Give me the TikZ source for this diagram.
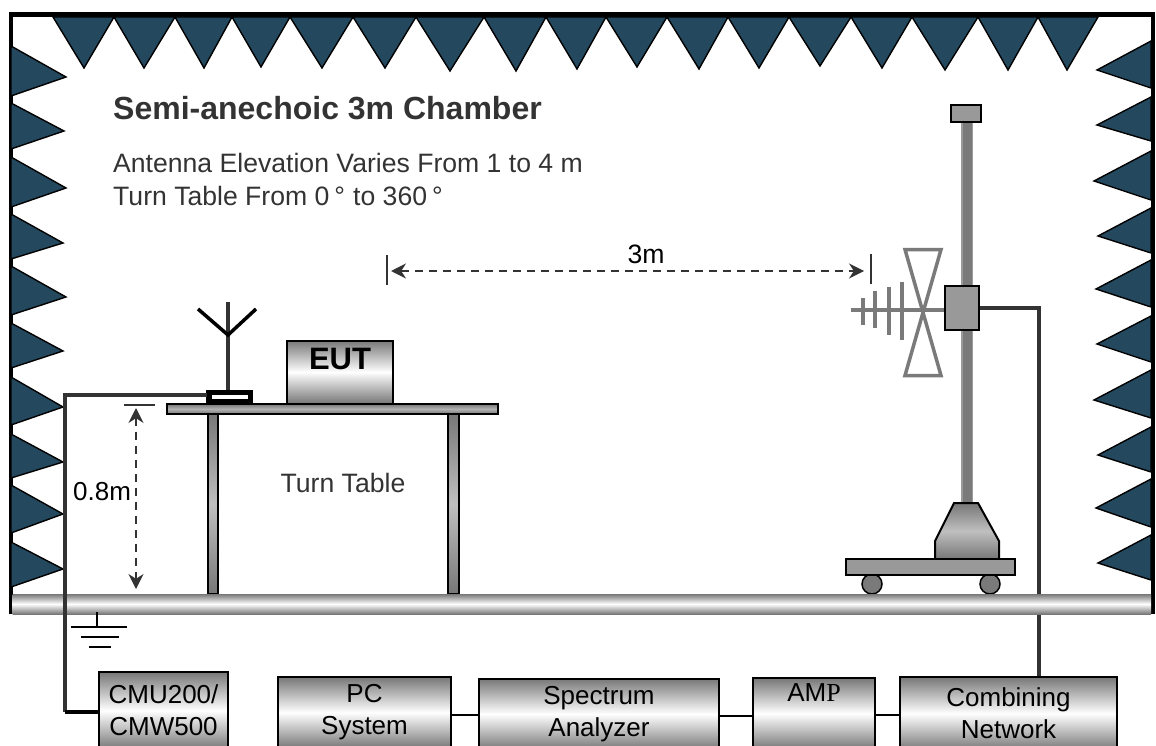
\documentclass[tikz,border=0pt]{standalone}
\usepackage{fontspec}
\setmainfont{Liberation Sans}
\newfontfamily\serifp{Liberation Serif}
\usetikzlibrary{arrows.meta}
\definecolor{wedge}{HTML}{24495F}
\definecolor{ink}{HTML}{333333}
\definecolor{mastgray}{HTML}{7A7A7A}
\definecolor{mastedge}{HTML}{9A9A9A}
\definecolor{partgray}{HTML}{999999}
\definecolor{shadegray}{HTML}{777777}
\tikzset{
  wedgest/.style={fill=wedge,draw=black,line width=1.4pt,line join=miter},
  gradst/.style={draw=black,line width=2pt,top color=shadegray,bottom color=shadegray,middle color=white},
  darkgrad/.style={draw=black,line width=2pt,top color=shadegray,bottom color=shadegray,middle color=black!25},
  instr/.style={gradst,inner sep=0pt,align=center,font=\fontsize{26}{32}\selectfont,text=black},
  partst/.style={fill=partgray,draw=black,line width=2pt},
  antst/.style={draw=mastgray,line width=4pt},
  cable/.style={draw=ink,line width=3.5pt,line join=miter},
  wire/.style={draw=black,line width=1.8pt},
  dim/.style={draw=ink,line width=1.8pt,dash pattern=on 8pt off 6pt,{Stealth[length=15pt,width=15pt]}-{Stealth[length=15pt,width=15pt]}},
  tickst/.style={draw=ink,line width=1.6pt},
  txt/.style={inner sep=0pt,text=ink,font=\fontsize{26.6}{32}\selectfont}
}
\begin{document}
\begin{tikzpicture}[x=1pt,y=-1pt]
\useasboundingbox (0,0) rectangle (1156,746);
\clip (0,0) rectangle (1156,746);
% frame
\draw[line width=4.5pt,line join=miter] (11,614)--(11,14.5)--(1153,14.5)--(1153,614);
% absorbers top
\foreach \a/\t/\b/\d in {53/84/114/68,114/144/175/68,175/204/232/68,232/261/290/67,290/322/353/68,353/385/416/68,416/450/484/71,484/516/546/71,546/577/606/69,606/637/667/67,667/699/728/69,728/759/789/68,789/820/851/66,851/882/912/68,912/945/978/70,978/1008/1038/70,1038/1067/1098/70}
  \draw[wedgest] (\a,17)--(\t,\d)--(\b,17)--cycle;
% absorbers left
\foreach \a/\b/\tx/\ty in {46/96/66/77,103/149/64/131,157/207/66/188,214/259/63/243,266/315/66/297,323/368/63/351,377/425/63/407,434/478/63/462,485/533/63/514,542/587/63/569}
  \draw[wedgest] (11,\a)--(\tx,\ty)--(11,\b)--cycle;
% absorbers right
\foreach \a/\b/\tx/\ty in {41/88/1097/70,97/141/1097/125,151/200/1094/181,208/253/1098/236,260/307/1096/289,316/362/1097/344,370/418/1094/400,427/472/1098/455,479/527/1096/508,535/580/1098/563}
  \draw[wedgest] (1151,\a)--(\tx,\ty)--(1151,\b)--cycle;
% texts
\node[txt,anchor=base west,font=\bfseries\fontsize{32}{36}\selectfont] (title) at (113,120) {Semi-anechoic 3m Chamber};
\node[txt,anchor=base west] (elev) at (113,173) {Antenna Elevation Varies From 1 to 4 m};
\node[txt,anchor=base west] (turn) at (113,205) {Turn Table From 0\kern5pt°\kern8pt to 360\kern5pt°};
\node[txt] (tt) at (343,483) {Turn Table};
% 3 m dimension
\coordinate (ta1) at (387,255); \coordinate (ta2) at (387,285);
\coordinate (tb1) at (871,254); \coordinate (tb2) at (871,284);
\draw[tickst] (ta1)--(ta2);
\draw[tickst] (tb1)--(tb2);
\coordinate (da) at (391,271); \coordinate (db) at (864,271);
\draw[dim] (da)--(db);
\node[txt,text=black] (three) at (646,254) {3m};
% table
\draw[darkgrad] (207.5,414) rectangle (218,594);
\draw[darkgrad] (447.5,414) rectangle (458.5,594);
\draw[darkgrad,middle color=black!30] (167,404) rectangle (498,414);
% EUT
\node[gradst,inner sep=0pt,minimum width=106pt,minimum height=63pt] (eut) at (340,372) {};
\node[inner sep=0pt,font=\bfseries\fontsize{31}{36}\selectfont] (eutt) at (340,359) {EUT};
% device with antenna
\draw[fill=black,draw=none] (206,389.5) rectangle (253,404);
\draw[fill=white,draw=none] (212,395) rectangle (248,399);
\coordinate (dev) at (207,395);
\coordinate (anttop) at (228,302); \coordinate (antfoot) at (228,390); \coordinate (fork) at (228,335);
\draw[draw=ink,line width=3.2pt] (anttop)--(antfoot);
\draw[draw=black,line width=3.5pt] (198,309)--(fork)--(256,309);
% right cable, hidden behind the floor
\node[instr,minimum width=217pt,minimum height=73pt] (comb) at (1008.5,713.5) {Combining\\Network};
\coordinate (cc) at (1039,308);
% mast
\draw[fill=mastedge,draw=none] (961,120) rectangle (973,505);
\draw[fill=mastgray,draw=none] (962.5,120) rectangle (971.5,505);
\draw[partst] (951,105.5) rectangle (981,122);
\draw[draw=mastgray,line width=3.5pt] (851,310)--(945,310);
\draw[antst] (863,298)--(863,325);
\draw[antst] (875,291)--(875,328);
\draw[antst] (889,287)--(889,335);
\draw[antst] (902,282)--(902,340);
\draw[draw=mastgray,line width=3.5pt,line join=miter] (905,249.5)--(941,249.5)--(905,375.5)--(941,375.5)--cycle;
\node[partst,inner sep=0pt,minimum width=34pt,minimum height=44pt] (mount) at (962,308) {};
\draw[cable] (mount.east)--(cc)--(cc|-comb.north);
% base
\draw[darkgrad] (954,503)--(978,503)--(999,541)--(999,559)--(935,559)--(935,541)--cycle;
\draw[fill=mastgray,draw=black,line width=1.5pt] (872,584) circle (10);
\draw[fill=mastgray,draw=black,line width=1.5pt] (990,584) circle (10);
\draw[partst] (846,559) rectangle (1015,575);
% floor
\shade[top color=shadegray,bottom color=shadegray,middle color=white] (12.5,594) rectangle (1151,614);
% ground
\draw[wire] (97,612)--(97,627);
\draw[wire] (71,627)--(127,627);
\draw[wire] (81,637)--(119,637);
\draw[wire] (89,647)--(111,647);
% 0.8 m dimension
\coordinate (h1) at (124,405); \coordinate (h2) at (155,405);
\draw[tickst] (h1)--(h2);
\coordinate (ua) at (136,408); \coordinate (ub) at (136,589);
\draw[dim] (ua)--(ub);
\node[txt,text=black,anchor=base west,font=\fontsize{26}{32}\selectfont] (zero) at (73,500) {0.8m};
% instruments
\node[instr,minimum width=129pt,minimum height=77pt] (cmu) at (163.5,710.5) {CMU200/\\CMW500};
\node[instr,minimum width=173pt,minimum height=71pt] (pc) at (364.5,712.5) {PC\\System};
\node[instr,minimum width=240pt,minimum height=71pt] (sa) at (599,714) {Spectrum\\Analyzer};
\node[instr,minimum width=122pt,minimum height=71pt] (amp) at (814,713.5) {AM{\serifp P}\\\strut};
% left cable
\coordinate (cl) at (65,395); \coordinate (cb) at (65,712);
\draw[cable] (dev)--(cl)--(cb);
\draw[draw=black,line width=3.5pt] (cb)--(cmu.west|-cb);
% links
\draw[wire] (pc.east|-0,715)--(sa.west|-0,715);
\draw[wire] (sa.east|-0,716)--(amp.west|-0,716);
\draw[wire] (amp.east|-0,715)--(comb.west|-0,715);
\end{tikzpicture}
\end{document}
